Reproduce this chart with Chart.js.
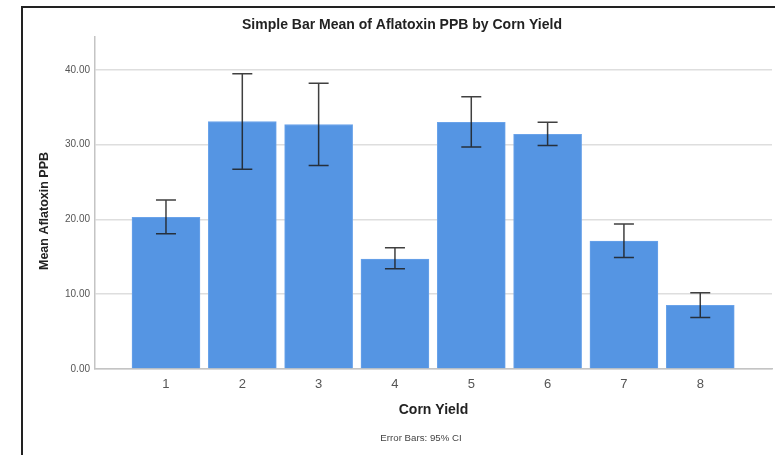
<!DOCTYPE html>
<html>
<head>
<meta charset="utf-8">
<script src="https://cdn.jsdelivr.net/npm/chart.js@4"></script>
<style>
  html, body { margin: 0; padding: 0; background: #fff; overflow: hidden; }
  #box {
    position: absolute; left: 21px; top: 6px;
    width: 756px; height: 460px;
    border: 2px solid #222;
  }
  #wrap { position: absolute; left: 0; top: 0; width: 756px; height: 447px; }
</style>
</head>
<body>
<div id="box"><div id="wrap"><canvas id="chart"></canvas></div></div>
<script>
// corn yield groups and mean aflatoxin (ppb) with 95% CI
const categories = [1, 2, 3, 4, 5, 6, 7, 8];
const means = [20.3, 33.1, 32.7, 14.7, 33.0, 31.4, 17.1, 8.5];
const ciLower = [18.1, 26.7, 27.2, 13.4, 29.7, 29.9, 14.9, 6.9];
const ciUpper = [22.6, 39.5, 38.2, 16.2, 36.4, 33.0, 19.4, 10.2];
const yTicks = [0, 10, 20, 30, 40];

const chartTitle = 'Simple Bar Mean of Aflatoxin PPB by Corn Yield';
const yTitle = 'Mean Aflatoxin PPB';
const xTitle = 'Corn Yield';
const footNote = 'Error Bars: 95% CI';

// error bars + text bits
const extras = {
    id: 'extras',
    afterDatasetsDraw(chart) {
        const ctx = chart.ctx;
        const xs = chart.scales.x;
        const ys = chart.scales.y;
        ctx.save();
        ctx.strokeStyle = 'rgba(30,30,30,0.85)';
        ctx.lineWidth = 1.5;
        categories.forEach((c, i) => {
            const x = xs.getPixelForValue(c);
            const top = ys.getPixelForValue(ciUpper[i]);
            const bot = ys.getPixelForValue(ciLower[i]);
            ctx.beginPath();
            ctx.moveTo(x, top); ctx.lineTo(x, bot);
            ctx.moveTo(x - 10, top); ctx.lineTo(x + 10, top);
            ctx.moveTo(x - 10, bot); ctx.lineTo(x + 10, bot);
            ctx.stroke();
        });
        ctx.restore();
    },
    afterDraw(chart) {
        const ctx = chart.ctx;
        ctx.save();
        ctx.fillStyle = '#222';
        ctx.textAlign = 'center';
        ctx.textBaseline = 'middle';
        ctx.font = 'bold 14px "Liberation Sans", Arial, sans-serif';
        ctx.fillText(chartTitle, 379, 17);
        ctx.font = '9.7px "Liberation Sans", Arial, sans-serif';
        ctx.fillStyle = '#444';
        ctx.fillText(footNote, 398, 430);
        ctx.translate(22, 203);
        ctx.rotate(-Math.PI / 2);
        ctx.fillStyle = '#222';
        ctx.font = 'bold 12.5px "Liberation Sans", Arial, sans-serif';
        ctx.fillText(yTitle, 0, 0);
        ctx.restore();
    }
};

new Chart(document.getElementById('chart'), {
    type: 'bar',
    data: {
        datasets: [{
            data: categories.map((c, i) => ({ x: c, y: means[i] })),
            backgroundColor: '#5595e3',
            borderColor: '#6aa3ea',
            borderWidth: 1,
            barThickness: 68
        }]
    },
    options: {
        responsive: true,
        maintainAspectRatio: false,
        animation: false,
        events: [],
        layout: { padding: { top: 29, right: 7, left: 0, bottom: 0 } },
        plugins: {
            legend: { display: false },
            tooltip: { enabled: false }
        },
        scales: {
            x: {
                type: 'linear',
                offset: false,
                min: 0.07,
                max: 8.94,
                afterBuildTicks: s => { s.ticks = categories.map(v => ({ value: v })); },
                afterFit: s => { s.height = 86; },
                grid: { display: false, drawTicks: false, offset: false },
                border: { color: '#c4c4c4', width: 1.5 },
                ticks: {
                    color: '#555',
                    padding: 8,
                    font: { family: '"Liberation Sans", Arial, sans-serif', size: 13 }
                },
                title: {
                    display: true,
                    text: xTitle,
                    color: '#222',
                    padding: { top: 0, bottom: 36 },
                    font: { family: '"Liberation Sans", Arial, sans-serif', size: 14, weight: 'bold' }
                }
            },
            y: {
                min: 0,
                max: 44.4,
                afterBuildTicks: s => { s.ticks = yTicks.map(v => ({ value: v })); },
                afterFit: s => { s.width = 72; },
                grid: { color: '#dedede', lineWidth: 1.5, drawTicks: false },
                border: { color: '#c4c4c4', width: 1.5 },
                ticks: {
                    color: '#555',
                    padding: 5,
                    font: { family: '"Liberation Sans", Arial, sans-serif', size: 10 },
                    callback: v => v.toFixed(2)
                }
            }
        }
    },
    plugins: [extras]
});
</script>
</body>
</html>
